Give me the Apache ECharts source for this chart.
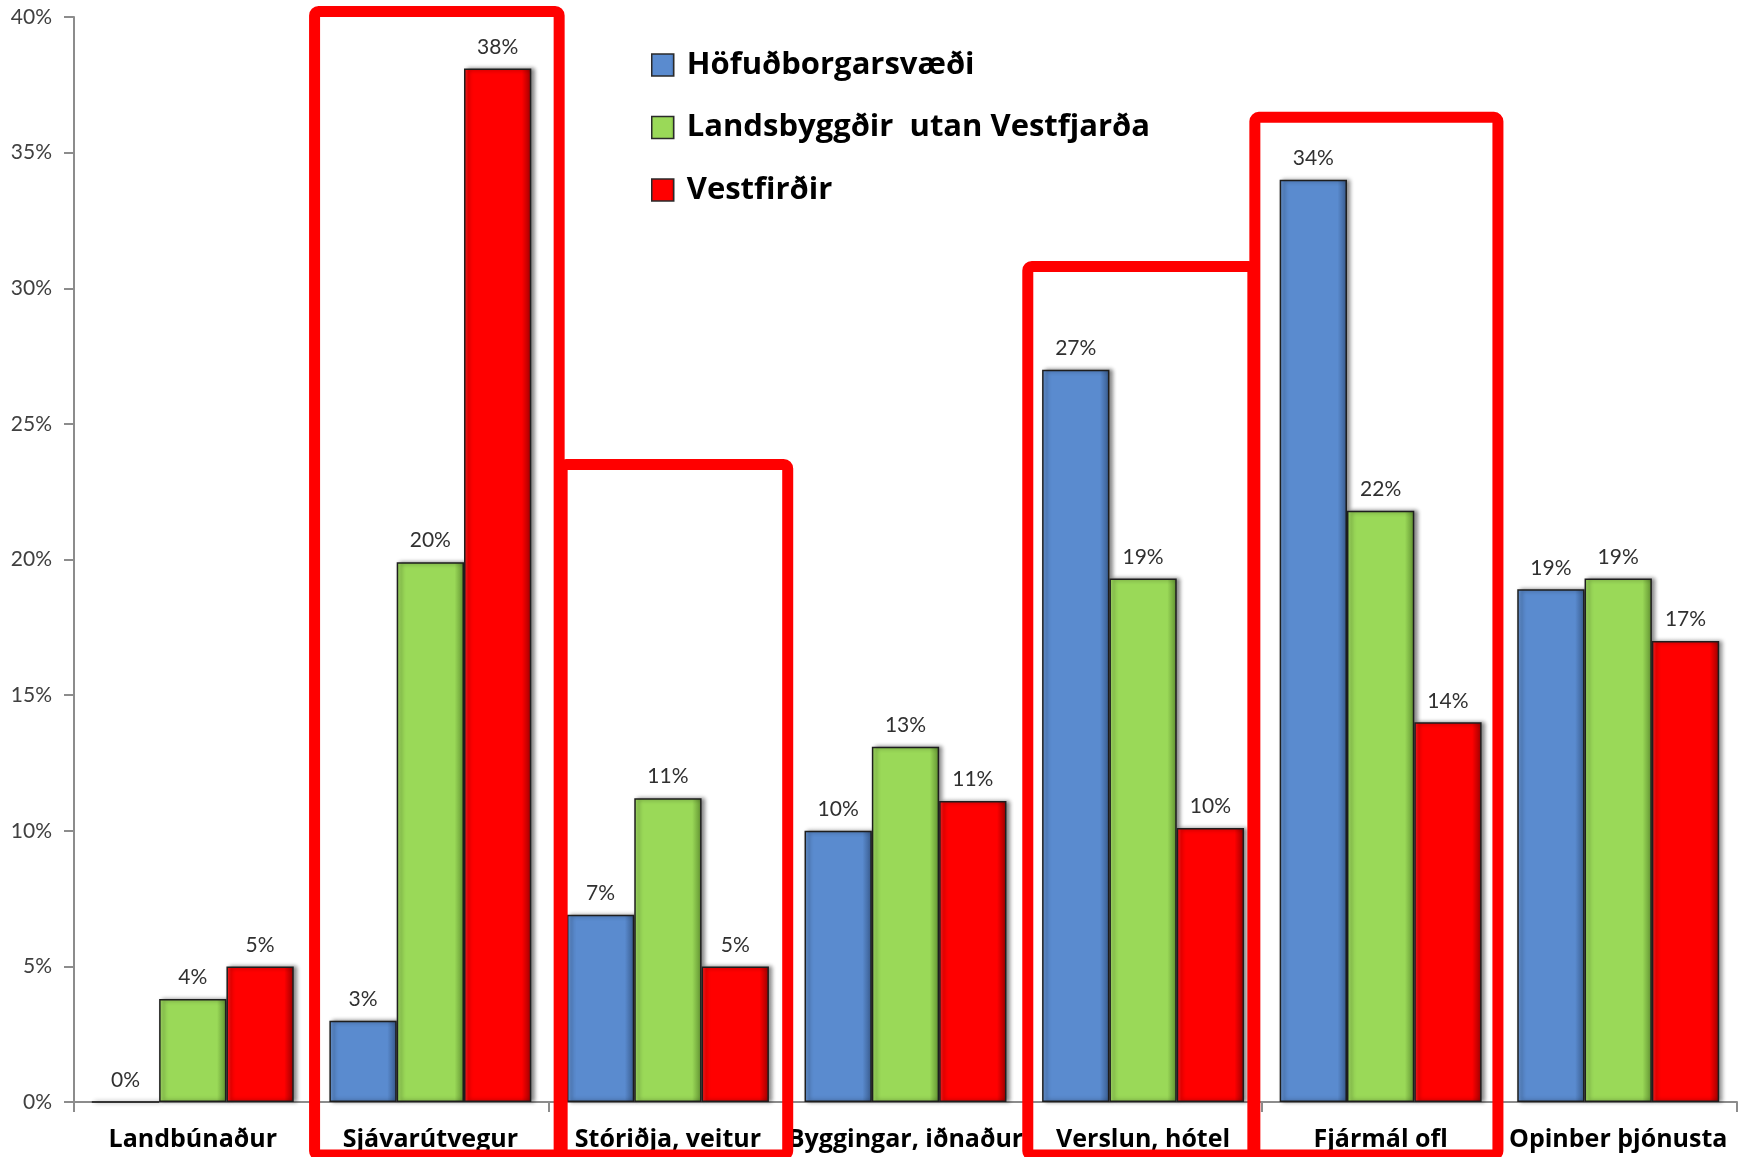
<!DOCTYPE html>
<html><head><meta charset="utf-8">
<script src="https://cdn.jsdelivr.net/npm/echarts@6/dist/echarts.min.js"></script>
<style>html,body{margin:0;padding:0;background:#fff}#c{width:1746px;height:1157px}</style>
</head><body><div id="c"></div>
<script>
// ---- data ----
const categories = ['Landbúnaður', 'Sjávarútvegur', 'Stóriðja, veitur', 'Byggingar, iðnaður', 'Verslun, hótel', 'Fjármál ofl', 'Opinber þjónusta'];
const seriesNames = ['Höfuðborgarsvæði', 'Landsbyggðir  utan Vestfjarða', 'Vestfirðir'];
const hofudborgarsvaedi = [0, 3.0, 6.9, 10.0, 27.0, 34.0, 18.9];
const landsbyggdir = [3.8, 19.9, 11.2, 13.1, 19.3, 21.8, 19.3];
const vestfirdir = [5.0, 38.1, 5.0, 11.1, 10.1, 14.0, 17.0];
const yMin = 0, yMax = 40, yStep = 5;
// highlighted categories (red frames) and the value level of each frame's top edge
const frameCategories = [1, 2, 4, 5];
const frameTopValues = [40.2, 23.5, 30.8, 36.3];

// ---- styles ----
const FONT = 'Lato, "Open Sans", sans-serif';
const BOLDFONT = '"Open Sans", Lato, sans-serif';
function grad(edgeL, base, edgeR) {
  return new echarts.graphic.LinearGradient(0, 0, 1, 0, [
    {offset: 0, color: edgeL}, {offset: 0.07, color: base},
    {offset: 0.86, color: base}, {offset: 1, color: edgeR}
  ]);
}
const palette = [
  {base: '#5a8bcf', l: '#6f9ddb', r: '#37598a'},
  {base: '#9ad958', l: '#a9e36a', r: '#5f8f30'},
  {base: '#ff0000', l: '#ff2a2a', r: '#9a0000'}
];
const seriesData = [hofudborgarsvaedi, landsbyggdir, vestfirdir];

const chart = echarts.init(document.getElementById('c'), null, {renderer: 'canvas'});
const option = {
  backgroundColor: '#ffffff',
  animation: false,
  grid: {left: 74, right: 9, top: 17, bottom: 55, containLabel: false},
  legend: {
    orient: 'vertical', left: 646, top: 44,
    itemWidth: 22, itemHeight: 22, itemGap: 30.5,
    textStyle: {fontFamily: BOLDFONT, fontSize: 31, fontWeight: 'bold', color: '#000', lineHeight: 32, padding: [0, 0, 0, 8]},
    data: seriesNames.map((n, i) => ({name: n, icon: 'rect',
      itemStyle: {color: grad(palette[i].l, palette[i].base, palette[i].r), borderColor: '#2a2a2a', borderWidth: 1.5}}))
  },
  xAxis: {
    type: 'category', data: categories,
    axisLine: {show: true, lineStyle: {color: '#8c8c8c', width: 2}},
    axisTick: {show: true, alignWithLabel: false, length: 10, lineStyle: {color: '#8c8c8c', width: 2}},
    axisLabel: {interval: 0, margin: 25, fontFamily: BOLDFONT, fontSize: 25, fontWeight: 'bold', color: '#000'}
  },
  yAxis: {
    type: 'value', min: yMin, max: yMax, interval: yStep,
    axisLine: {show: true, lineStyle: {color: '#8c8c8c', width: 2}},
    axisTick: {show: true, length: 10, lineStyle: {color: '#8c8c8c', width: 2}},
    splitLine: {show: false},
    axisLabel: {margin: 22, fontFamily: FONT, fontSize: 21, color: '#404040', formatter: '{value}%'}
  },
  series: seriesNames.map((n, i) => ({
    name: n, type: 'bar', data: seriesData[i],
    barGap: '0%', barCategoryGap: '15%',
    itemStyle: {
      color: grad(palette[i].l, palette[i].base, palette[i].r),
      borderColor: '#1e1e1e', borderWidth: 1.5,
      shadowColor: 'rgba(0,0,0,0.45)', shadowBlur: 4, shadowOffsetX: 3, shadowOffsetY: 0
    },
    label: {
      show: true, position: 'top', distance: 11,
      fontFamily: FONT, fontSize: 21, color: '#303030',
      formatter: p => Math.round(p.value) + '%'
    }
  }))
};
chart.setOption(option);

// ---- red frames around highlighted categories, placed from the axes ----
const frameOffsets = [[3, 10], [13, 1], [3.5, -9], [-7, -1.5]];
function drawFrames() {
  const c0 = chart.convertToPixel({xAxisIndex: 0}, 0);
  const c1 = chart.convertToPixel({xAxisIndex: 0}, 1);
  const w = c1 - c0;
  const bottom = 1155;
  const els = frameCategories.map((ci, k) => {
    const cx = chart.convertToPixel({xAxisIndex: 0}, ci);
    const x1 = cx - w / 2 + frameOffsets[k][0];
    const x2 = cx + w / 2 + frameOffsets[k][1];
    const y1 = chart.convertToPixel({yAxisIndex: 0}, frameTopValues[k]);
    return {
      type: 'rect', z: 100, silent: true,
      shape: {x: x1, y: y1, width: x2 - x1, height: bottom - y1, r: 4},
      style: {fill: 'none', stroke: '#ff0000', lineWidth: 11}
    };
  });
  chart.setOption({graphic: els});
}
drawFrames();
</script></body></html>
